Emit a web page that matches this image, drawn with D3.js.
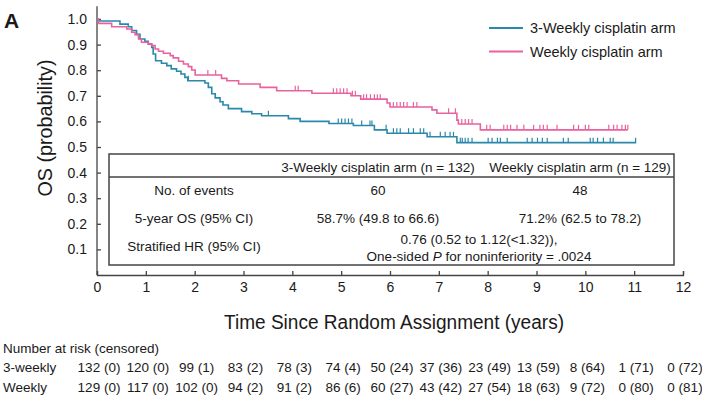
<!DOCTYPE html>
<html>
<head>
<meta charset="utf-8">
<script src="https://cdn.jsdelivr.net/npm/d3@7"></script>
<style>
  body { margin: 0; background: #fff; }
  text { font-family: "Liberation Sans", Arial, sans-serif; fill: #1a1a1a; }
</style>
</head>
<body>
<svg width="702" height="400"></svg>
<script>
// Kaplan-Meier steps (years, probability)
const threeWeeklyTimes = [0, 0.03, 0.47, 0.64, 0.71, 0.81, 0.88, 0.98, 1.05, 1.12, 1.15, 1.2, 1.32, 1.43, 1.52, 1.63, 1.72, 1.8, 1.86, 2.21, 2.28, 2.35, 2.42, 2.52, 2.58, 2.69, 2.96, 3.17, 3.37, 3.92, 4.16, 4.75, 5.25, 5.68, 5.94, 6.76, 7.37];
const threeWeeklySurv = [1.0, 0.992, 0.98, 0.97, 0.955, 0.94, 0.922, 0.913, 0.902, 0.889, 0.863, 0.837, 0.827, 0.818, 0.805, 0.796, 0.785, 0.772, 0.759, 0.75, 0.733, 0.708, 0.692, 0.677, 0.664, 0.65, 0.638, 0.63, 0.622, 0.611, 0.6, 0.592, 0.584, 0.567, 0.554, 0.54, 0.517];
const threeWeeklyEnd = 11.04;
const threeWeeklyCensor = [1.87, 3.51, 4.94, 5.01, 5.08, 5.15, 5.22, 5.42, 5.59, 5.63, 5.92, 6.07, 6.14, 6.21, 6.38, 6.48, 6.62, 6.69, 6.82, 7.03, 7.13, 7.23, 7.3, 7.44, 7.48, 7.54, 7.6, 7.68, 8.01, 8.09, 8.2, 8.26, 8.4, 8.81, 8.91, 9.02, 9.12, 9.22, 9.55, 9.65, 10.1, 10.16, 10.25, 10.37, 10.51, 10.57, 11.03];

const weeklyTimes = [0, 0.03, 0.3, 0.61, 0.71, 0.78, 0.85, 0.91, 1.05, 1.12, 1.19, 1.26, 1.36, 1.5, 1.56, 1.67, 1.77, 1.87, 1.94, 2.01, 2.55, 2.66, 2.9, 3.34, 3.68, 4.4, 5.2, 5.4, 5.94, 6.0, 6.86, 6.96, 7.37, 7.4, 7.85];
const weeklySurv = [1.0, 0.983, 0.97, 0.961, 0.948, 0.939, 0.922, 0.909, 0.903, 0.896, 0.883, 0.874, 0.866, 0.857, 0.848, 0.835, 0.824, 0.814, 0.801, 0.781, 0.768, 0.759, 0.746, 0.733, 0.72, 0.71, 0.7, 0.687, 0.672, 0.656, 0.645, 0.632, 0.605, 0.59, 0.567];
const weeklyEnd = 10.87;
const weeklyCensor = [2.27, 2.43, 4.06, 4.12, 4.84, 4.91, 4.98, 5.05, 5.12, 5.23, 5.29, 5.46, 5.52, 5.6, 5.68, 5.74, 5.8, 6.07, 6.14, 6.21, 6.28, 6.35, 6.48, 6.55, 7.2, 7.34, 7.47, 7.54, 7.61, 7.68, 7.98, 8.05, 8.33, 8.4, 8.47, 8.6, 8.74, 8.94, 9.07, 9.14, 9.22, 9.42, 9.76, 9.86, 10.0, 10.07, 10.48, 10.58, 10.65, 10.75, 10.82, 10.87];

const xTickValues = [0, 1, 2, 3, 4, 5, 6, 7, 8, 9, 10, 11, 12];
const yTickValues = [0.1, 0.2, 0.3, 0.4, 0.5, 0.6, 0.7, 0.8, 0.9, 1.0];

const armNames = ["3-Weekly cisplatin arm", "Weekly cisplatin arm"];
const tableHeaders = ["3-Weekly cisplatin arm (n = 132)", "Weekly cisplatin arm (n = 129)"];
const tableRowLabels = ["No. of events", "5-year OS (95% CI)", "Stratified HR (95% CI)"];
const eventsValues = ["60", "48"];
const osValues = ["58.7% (49.8 to 66.6)", "71.2% (62.5 to 78.2)"];

const riskTimes = [0, 1, 2, 3, 4, 5, 6, 7, 8, 9, 10, 11, 12];
const riskRowLabels = ["3-weekly", "Weekly"];
const threeWeeklyAtRisk = [132, 120, 99, 83, 78, 74, 50, 37, 23, 13, 8, 1, 0];
const threeWeeklyCensored = [0, 0, 1, 2, 3, 4, 24, 36, 49, 59, 64, 71, 72];
const weeklyAtRisk = [129, 117, 102, 94, 91, 86, 60, 43, 27, 18, 9, 0, 0];
const weeklyCensored = [0, 0, 0, 2, 2, 6, 27, 42, 54, 63, 72, 80, 81];

const blue = "#2a88ab", pink = "#e8629f", axisColor = "#444";

const svg = d3.select("svg");
const x = d3.scaleLinear().domain([0, 12]).range([97, 683]);
const y = d3.scaleLinear().domain([0, 1]).range([275, 19]);

// panel letter
svg.append("text").attr("x", 4).attr("y", 28)
  .style("font-size", "21px").style("font-weight", "bold").text("A");

// axes
const yAxis = svg.append("g").attr("transform", "translate(" + x(0) + ",0)")
  .call(d3.axisLeft(y).tickValues(yTickValues).tickSize(-4).tickPadding(10).tickFormat(d3.format(".1f")));
yAxis.select(".domain").remove();
yAxis.append("line").attr("x1", 0).attr("x2", 0).attr("y1", y(0)).attr("y2", y(1.05));

const xAxis = svg.append("g").attr("transform", "translate(0," + y(0) + ")")
  .call(d3.axisBottom(x).tickValues(xTickValues).tickSize(-4).tickPadding(7).tickFormat(d3.format("d")));

[yAxis, xAxis].forEach(function (g) {
  g.selectAll("line, path").attr("stroke", axisColor).attr("stroke-width", 1.3);
  g.selectAll("text").style("font-size", "14px").style("font-family", "Liberation Sans, Arial, sans-serif").attr("fill", "#1a1a1a");
});

// condensed look for the axis titles: squeeze to the reference widths
svg.append("text")
  .attr("transform", "translate(52,128) rotate(-90)")
  .attr("text-anchor", "middle").style("font-size", "20px")
  .attr("textLength", 137).attr("lengthAdjust", "spacingAndGlyphs").text("OS (probability)");
svg.append("text")
  .attr("x", 394).attr("y", 329).attr("text-anchor", "middle")
  .style("font-size", "20px")
  .attr("textLength", 340).attr("lengthAdjust", "spacingAndGlyphs")
  .text("Time Since Random Assignment (years)");

// curves
const line = d3.line().x(function (d) { return x(d[0]); }).y(function (d) { return y(d[1]); })
  .curve(d3.curveStepAfter);

function drawArm(times, surv, end, censor, color) {
  const pts = times.map(function (t, i) { return [t, surv[i]]; });
  pts.push([end, surv[surv.length - 1]]);
  svg.append("path").datum(pts).attr("d", line)
    .attr("fill", "none").attr("stroke", color).attr("stroke-width", 1.6);
  const survAt = function (t) {
    let s = surv[0];
    times.forEach(function (tt, i) { if (tt <= t) s = surv[i]; });
    return s;
  };
  svg.append("g").selectAll("line").data(censor).enter().append("line")
    .attr("x1", function (d) { return x(d); }).attr("x2", function (d) { return x(d); })
    .attr("y1", function (d) { return y(survAt(d)); })
    .attr("y2", function (d) { return y(survAt(d)) - 5; })
    .attr("stroke", color).attr("stroke-width", 1.2);
}
drawArm(threeWeeklyTimes, threeWeeklySurv, threeWeeklyEnd, threeWeeklyCensor, blue);
drawArm(weeklyTimes, weeklySurv, weeklyEnd, weeklyCensor, pink);

// legend
const legend = svg.append("g").selectAll("g").data(armNames).enter().append("g")
  .attr("transform", function (d, i) { return "translate(489," + (28 + i * 23.5) + ")"; });
legend.append("line").attr("x1", 0).attr("x2", 34)
  .attr("stroke", function (d, i) { return i === 0 ? blue : pink; }).attr("stroke-width", 2.2);
legend.append("text").attr("x", 41).attr("dy", "0.36em").style("font-size", "14.5px").text(function (d) { return d; });

// summary table
const box = { left: 109, right: 674, top: 154, bottom: 265, header: 177 };
const colX = [378, 580], labelX = 194;
const tbl = svg.append("g").style("font-size", "13.5px");
tbl.append("rect").attr("x", box.left).attr("y", box.top)
  .attr("width", box.right - box.left).attr("height", box.bottom - box.top)
  .attr("fill", "#fff").attr("stroke", axisColor).attr("stroke-width", 1.5);
tbl.append("line").attr("x1", box.left).attr("x2", box.right).attr("y1", box.header).attr("y2", box.header)
  .attr("stroke", axisColor).attr("stroke-width", 1.5);

function cell(tx, ty, str) {
  return tbl.append("text").attr("x", tx).attr("y", ty).attr("dy", "0.35em")
    .attr("text-anchor", "middle").text(str);
}
tableHeaders.forEach(function (h, i) { cell(colX[i], 167, h); });
const rowY = [190, 218, 246];
tableRowLabels.forEach(function (l, i) { cell(labelX, rowY[i], l); });
eventsValues.forEach(function (v, i) { cell(colX[i], rowY[0], v); });
osValues.forEach(function (v, i) { cell(colX[i], rowY[1], v); });
cell(479, 239, "0.76 (0.52 to 1.12(<1.32)),");
const pLine = cell(479, 256, "");
pLine.append("tspan").text("One-sided ");
pLine.append("tspan").style("font-style", "italic").text("P");
pLine.append("tspan").text(" for noninferiority = .0024");

// number at risk
const risk = svg.append("g").style("font-size", "13.5px");
risk.append("text").attr("x", 3).attr("y", 348).attr("dy", "0.35em").text("Number at risk (censored)");
const riskRows = [[threeWeeklyAtRisk, threeWeeklyCensored], [weeklyAtRisk, weeklyCensored]];
riskRows.forEach(function (row, r) {
  const ry = 367 + r * 20;
  risk.append("text").attr("x", 3).attr("y", ry).attr("dy", "0.35em").text(riskRowLabels[r]);
  risk.append("g").selectAll("text").data(riskTimes).enter().append("text")
    .attr("x", function (d) { return x(d) + 2; }).attr("y", ry).attr("dy", "0.35em")
    .attr("text-anchor", "middle")
    .text(function (d, i) { return row[0][i] + " (" + row[1][i] + ")"; });
});
</script>
</body>
</html>
